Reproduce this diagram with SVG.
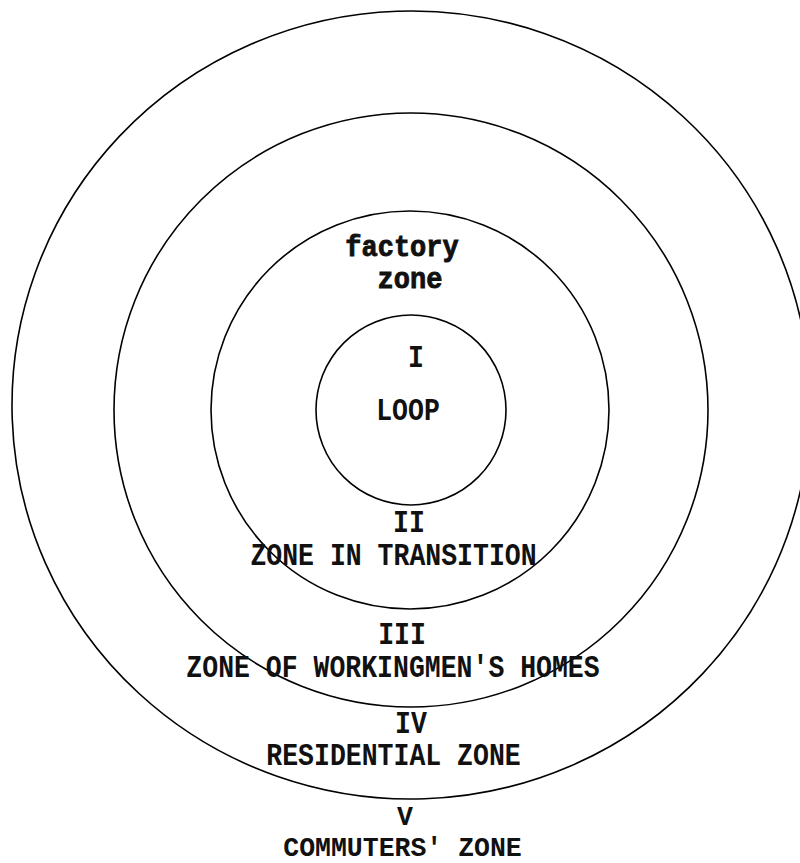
<svg xmlns="http://www.w3.org/2000/svg" width="800" height="863" viewBox="0 0 800 863">
<style>
.ring{fill:none;stroke:#000;stroke-width:1.6}
.t{font-family:"Liberation Mono","Courier New",monospace;font-weight:bold;font-size:26.5px;fill:#111;text-anchor:middle}
.f{font-size:27px;stroke:#111;stroke-width:0.8}
</style>
<rect width="800" height="863" fill="#fff"/>
<g id="zone5">
<ellipse class="ring" cx="411" cy="405" rx="399" ry="394" transform="rotate(-2 411 405)"/>
<text class="t" transform="translate(405,825) scale(1,1.05)">V</text>
<text class="t" transform="translate(402.5,856) scale(1,1.05)">COMMUTERS' ZONE</text>
</g>
<g id="zone4">
<circle class="ring" cx="411" cy="410" r="297"/>
<text class="t" transform="translate(411,733) scale(1,1.15)">IV</text>
<text class="t" transform="translate(393.5,765) scale(1,1.15)">RESIDENTIAL ZONE</text>
</g>
<g id="zone3">
<circle class="ring" cx="410" cy="410" r="199"/>
<text class="t" transform="translate(402,644) scale(1,1.15)">III</text>
<text class="t" transform="translate(393,677) scale(1,1.15)">ZONE OF WORKINGMEN'S HOMES</text>
</g>
<g id="zone2">
<circle class="ring" cx="411" cy="410" r="95"/>
<text class="t f" transform="translate(402,256) scale(1,1.1)">factory</text>
<text class="t f" transform="translate(410,288) scale(1,1.1)">zone</text>
<text class="t" transform="translate(409,532) scale(1,1.15)">II</text>
<text class="t" transform="translate(393.5,565) scale(1,1.15)">ZONE IN TRANSITION</text>
</g>
<g id="zone1">
<text class="t" transform="translate(416,367) scale(1,1.15)">I</text>
<text class="t" transform="translate(408,420) scale(1,1.15)">LOOP</text>
</g>
<g id="connectors"/>
</svg>
